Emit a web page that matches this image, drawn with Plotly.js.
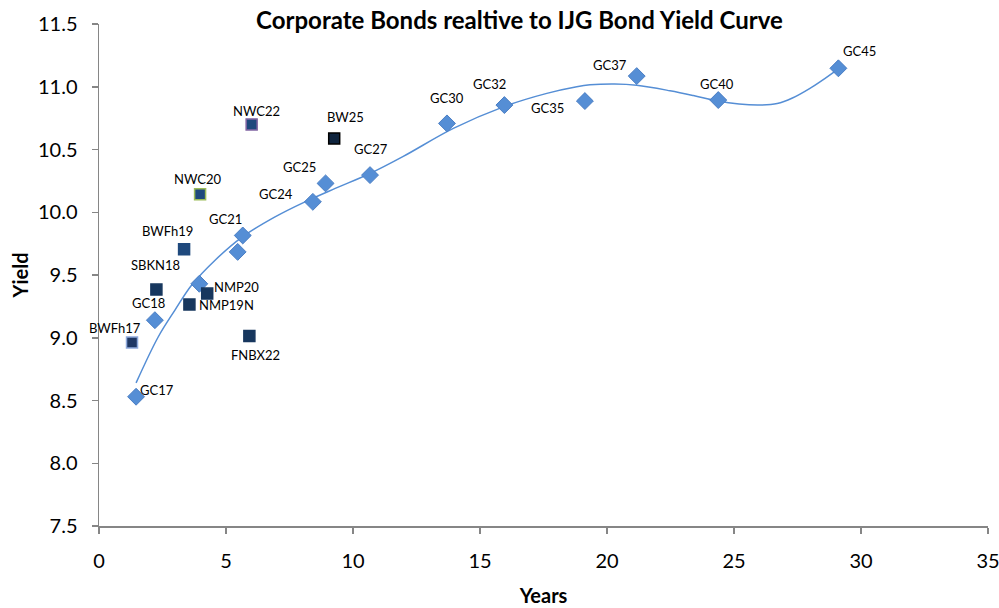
<!DOCTYPE html>
<html>
<head>
<meta charset="utf-8">
<script src="https://cdn.plot.ly/plotly-3.0.1.min.js"></script>
<style>html,body{margin:0;padding:0;background:#fff;}#chart{width:999px;height:608px;}</style>
</head>
<body>
<div id="chart"></div>
<script>
// Government bond (GC) points
const gcNames = ["GC17","GC18","","GC21","","GC24","GC25","GC27","GC30","GC32","GC35","GC37","GC40","GC45"];
const gcYears = [1.46, 2.2, 3.95, 5.66, 5.46, 8.42, 8.92, 10.67, 13.7, 15.96, 19.13, 21.17, 24.38, 29.11];
const gcYield = [8.53, 9.14, 9.43, 9.815, 9.684, 10.083, 10.23, 10.296, 10.708, 10.854, 10.886, 11.085, 10.894, 11.147];

// Corporate bond points
const corpNames = ["BWFh17","SBKN18","BWFh19","NWC20","NMP20","NMP19N","FNBX22","NWC22","BW25"];
const corpYears = [1.3, 2.26, 3.35, 3.98, 4.26, 3.56, 5.92, 6.01, 9.26];
const corpYield = [8.962, 9.384, 9.706, 10.144, 9.352, 9.265, 9.014, 10.70, 10.588];

// Yield curve (trend line)
const curveYears = [1.46, 2.33, 2.99, 3.65, 4.57, 5.62, 6.93, 8.11, 9.3, 10.67, 11.98, 13.95, 15.92, 17.63, 18.81, 19.33, 20.3, 21.17, 22.48, 23.4, 24.32, 25.2, 26.02, 26.7, 27.3, 27.99, 28.5, 29.04];
const curveYield = [8.64, 9.006, 9.22, 9.42, 9.618, 9.80, 9.963, 10.083, 10.19, 10.309, 10.445, 10.668, 10.84, 10.947, 11.0, 11.015, 11.022, 11.012, 10.968, 10.93, 10.888, 10.862, 10.854, 10.866, 10.91, 10.987, 11.055, 11.133];

// axis ticks
const xTicks = [0,5,10,15,20,25,30,35];
const yTicks = [7.5,8.0,8.5,9.0,9.5,10.0,10.5,11.0,11.5];

// label offsets in pixels (layout only)
const gcOff = [[21,7],[-6,17],null,[-17,16],null,[-37,8],[-26,16],[1,26],[0,25],[-15,21],[-37,-7],[-27,11],[-1,16],[21,17]];
const corpOff = [[-17,15],[-1,25],[-17,18],[-3,15],[29,7],[37,-1],[6,-19],[5,13],[11,21]];

const corpFill = ["#1F3864","#17375E","#1F497D","#1F497D","#17375E","#17375E","#17375E","#1F497D","#0F243E"];
const corpLine = ["#8EA9DB","#17375E","#1F497D","#9BBB59","#17375E","#17375E","#17375E","#8064A2","#000000"];

const FONT = "Lato, 'Open Sans', sans-serif";

const traces = [
  {x: curveYears, y: curveYield, type:"scatter", mode:"lines", line:{color:"#558ED5", width:1.5, shape:"spline", smoothing:1}, hoverinfo:"skip"},
  {x: gcYears, y: gcYield, type:"scatter", mode:"markers", marker:{symbol:"diamond", size:13, color:"#558ED5", line:{color:"#4A7EC4", width:1}}},
  {x: corpYears, y: corpYield, type:"scatter", mode:"markers", marker:{symbol:"square", size:11, color:corpFill, line:{color:corpLine, width:1.5}}}
];

const annotations = [];
gcNames.forEach((n,i)=>{ if(!n) return; annotations.push({x:gcYears[i], y:gcYield[i], text:n, showarrow:false, xshift:gcOff[i][0], yshift:gcOff[i][1], font:{family:FONT, size:13, color:"#000"}}); });
corpNames.forEach((n,i)=>{ annotations.push({x:corpYears[i], y:corpYield[i], text:n, showarrow:false, xshift:corpOff[i][0], yshift:corpOff[i][1], font:{family:FONT, size:13, color:"#000"}}); });

const layout = {
  width:999, height:608,
  margin:{l:99, r:11, t:24, b:82},
  paper_bgcolor:"#fff", plot_bgcolor:"#fff",
  showlegend:false,
  title:{text:"<b>Corporate Bonds realtive to IJG Bond Yield Curve</b>", font:{family:FONT, size:24, color:"#000"}, x:0.52, xanchor:"center", y:0.966, yanchor:"middle"},
  xaxis:{range:[0,35], tickvals:xTicks, ticktext:xTicks.map(String), showgrid:false, zeroline:false, showline:true, linecolor:"#868686", linewidth:1.5, ticks:"outside", ticklen:6, tickcolor:"#868686", tickwidth:1.5, ticklabelstandoff:10, ticklabeloverflow:"allow", tickfont:{family:FONT, size:20, color:"#000"},
    title:{text:"<b>Years</b>", font:{family:FONT, size:20, color:"#000"}, standoff:18}},
  yaxis:{range:[7.5,11.5], tickvals:yTicks, ticktext:yTicks.map(v=>v.toFixed(1)), showgrid:false, zeroline:false, showline:true, linecolor:"#868686", linewidth:1.5, ticks:"outside", ticklen:6, tickcolor:"#868686", tickwidth:1.5, ticklabelstandoff:10, ticklabeloverflow:"allow", tickfont:{family:FONT, size:20, color:"#000"},
    title:{text:"<b>Yield</b>", font:{family:FONT, size:20, color:"#000"}, standoff:4}},
  annotations: annotations
};

Plotly.newPlot("chart", traces, layout, {displayModeBar:false, staticPlot:true});
</script>
</body>
</html>
